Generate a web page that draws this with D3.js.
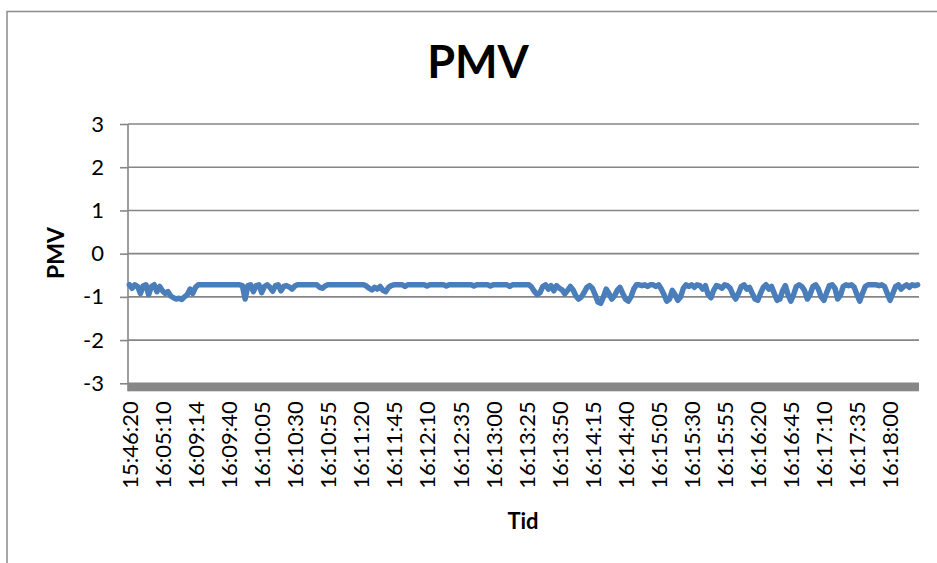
<!DOCTYPE html>
<html>
<head>
<meta charset="utf-8">
<script src="https://cdn.jsdelivr.net/npm/d3@7"></script>
<style>
  html, body { margin: 0; padding: 0; background: #fff; }
  svg { display: block; }
  text { font-family: Lato, "Open Sans", sans-serif; fill: #000; }
</style>
</head>
<body>
<svg id="chart" width="937" height="563"></svg>
<script>
// Category labels shown on the time axis (one every 12 samples)
const timeLabels = [
  "15:46:20", "16:05:10", "16:09:14", "16:09:40", "16:10:05", "16:10:30",
  "16:10:55", "16:11:20", "16:11:45", "16:12:10", "16:12:35", "16:13:00",
  "16:13:25", "16:13:50", "16:14:15", "16:14:40", "16:15:05", "16:15:30",
  "16:15:55", "16:16:20", "16:16:45", "16:17:10", "16:17:35", "16:18:00"
];
const labelEvery = 12;

// PMV samples
const pmv = [
  -0.72,-0.80,-0.72,-0.76,-0.92,-0.75,-0.72,-0.95,-0.76,-0.72,
  -0.88,-0.76,-0.86,-0.92,-0.88,-0.98,-1.02,-1.05,-1.03,-1.06,
  -1.00,-0.95,-0.82,-0.92,-0.78,-0.72,-0.72,-0.72,-0.72,-0.72,
  -0.72,-0.72,-0.72,-0.72,-0.72,-0.72,-0.72,-0.72,-0.72,-0.72,
  -0.72,-0.74,-1.05,-0.74,-0.72,-0.88,-0.74,-0.72,-0.90,-0.76,
  -0.72,-0.78,-0.87,-0.74,-0.72,-0.86,-0.76,-0.74,-0.77,-0.82,
  -0.75,-0.72,-0.72,-0.72,-0.72,-0.72,-0.72,-0.72,-0.72,-0.78,
  -0.80,-0.75,-0.72,-0.72,-0.72,-0.72,-0.72,-0.72,-0.72,-0.72,
  -0.72,-0.72,-0.72,-0.72,-0.72,-0.72,-0.75,-0.80,-0.84,-0.78,
  -0.82,-0.76,-0.85,-0.88,-0.78,-0.74,-0.72,-0.72,-0.72,-0.72,
  -0.76,-0.72,-0.72,-0.72,-0.72,-0.72,-0.72,-0.72,-0.75,-0.72,
  -0.72,-0.72,-0.72,-0.72,-0.72,-0.75,-0.72,-0.72,-0.72,-0.72,
  -0.72,-0.72,-0.72,-0.72,-0.72,-0.75,-0.72,-0.72,-0.72,-0.72,
  -0.72,-0.75,-0.72,-0.72,-0.72,-0.72,-0.72,-0.72,-0.76,-0.72,
  -0.72,-0.72,-0.72,-0.72,-0.72,-0.72,-0.78,-0.88,-0.95,-0.90,
  -0.76,-0.72,-0.82,-0.74,-0.86,-0.74,-0.80,-0.84,-0.93,-0.85,
  -0.76,-0.84,-0.98,-1.05,-1.00,-0.90,-0.78,-0.74,-0.80,-0.95,
  -1.12,-1.15,-1.00,-0.82,-0.92,-1.05,-0.98,-0.85,-0.78,-0.92,
  -1.05,-1.10,-1.00,-0.82,-0.72,-0.72,-0.74,-0.72,-0.76,-0.72,
  -0.72,-0.76,-0.72,-0.82,-0.95,-1.10,-1.05,-0.85,-0.95,-1.08,
  -1.00,-0.80,-0.72,-0.76,-0.72,-0.78,-0.72,-0.74,-0.82,-0.74,
  -0.95,-1.02,-0.85,-0.74,-0.76,-0.80,-0.72,-0.74,-0.80,-0.95,
  -1.05,-0.92,-0.76,-0.72,-0.82,-0.78,-0.92,-1.05,-1.08,-0.92,
  -0.78,-0.72,-0.82,-0.76,-0.92,-1.08,-1.05,-0.86,-0.74,-0.95,
  -1.10,-0.95,-0.76,-0.72,-0.76,-0.86,-1.05,-0.94,-0.76,-0.72,
  -0.82,-1.00,-1.08,-0.90,-0.74,-0.72,-0.80,-1.05,-0.96,-0.76,
  -0.72,-0.74,-0.72,-0.78,-0.95,-1.10,-0.92,-0.76,-0.72,-0.72,
  -0.72,-0.72,-0.74,-0.72,-0.76,-0.92,-1.08,-0.92,-0.76,-0.72,
  -0.82,-0.76,-0.72,-0.78,-0.72,-0.74,-0.72
];

const yTicks = [-3, -2, -1, 0, 1, 2, 3];

const svg = d3.select("#chart");
const plot = { left: 128, right: 919, top: 124, bottom: 383.3 };
const gridColor = "#868686";

// chart frame (extends past the visible page on the right and bottom)
svg.append("rect")
  .attr("x", 7).attr("y", 11.5)
  .attr("width", 1000).attr("height", 600)
  .attr("fill", "none").attr("stroke", "#8c8c8c").attr("stroke-width", 1.5);

const x = d3.scaleLinear().domain([0, pmv.length]).range([plot.left, plot.right]);
const y = d3.scaleLinear().domain([-3, 3]).range([plot.bottom, plot.top]);

// horizontal gridlines
svg.append("g")
  .selectAll("line")
  .data(yTicks)
  .join("line")
  .attr("x1", plot.left).attr("x2", plot.right)
  .attr("y1", d => y(d)).attr("y2", d => y(d))
  .attr("stroke", gridColor).attr("stroke-width", 1.6);

// y axis
const yAxis = svg.append("g")
  .attr("transform", `translate(${plot.left},0)`)
  .call(d3.axisLeft(y).tickValues(yTicks).tickSize(8).tickPadding(16)
    .tickFormat(d => String(d)));
yAxis.select(".domain").remove();
yAxis.selectAll(".tick line").attr("stroke", gridColor).attr("stroke-width", 1.6);
yAxis.selectAll(".tick text")
  .style("font-family", "Lato, sans-serif")
  .style("font-size", "22px")
  .attr("fill", "#000");
yAxis.append("line")
  .attr("x1", 0).attr("x2", 0)
  .attr("y1", plot.top).attr("y2", plot.bottom + 8)
  .attr("stroke", gridColor).attr("stroke-width", 1.6);

// thick category axis band
svg.append("rect")
  .attr("x", plot.left).attr("y", plot.bottom)
  .attr("width", plot.right - plot.left).attr("height", 8)
  .attr("fill", "#878787");

// category axis labels
const tickIdx = d3.range(0, pmv.length, labelEvery).slice(0, timeLabels.length);
const xAxis = svg.append("g")
  .attr("transform", `translate(0,${plot.bottom + 8})`)
  .call(d3.axisBottom(x)
    .tickValues(tickIdx.map(i => i + 0.5))
    .tickSize(0)
    .tickFormat((d, i) => timeLabels[i]));
xAxis.select(".domain").remove();
xAxis.selectAll(".tick text")
  .style("font-family", "Lato, sans-serif")
  .style("font-size", "22px")
  .attr("fill", "#000")
  .attr("text-anchor", "end")
  .attr("transform", "rotate(-90)")
  .attr("x", -10)
  .attr("y", 0)
  .attr("dy", "0.36em");

// PMV line
const line = d3.line()
  .x((d, i) => x(i + 0.5))
  .y(d => y(d));
svg.append("path")
  .datum(pmv)
  .attr("d", line)
  .attr("fill", "none")
  .attr("stroke", "#4a7ebb")
  .attr("stroke-width", 5.5)
  .attr("stroke-linejoin", "round")
  .attr("stroke-linecap", "round");

// titles
svg.append("text")
  .attr("x", 478).attr("y", 78)
  .attr("text-anchor", "middle")
  .style("font-size", "45px").style("font-weight", "bold")
  .text("PMV");

svg.append("text")
  .attr("transform", `translate(64,253) rotate(-90)`)
  .attr("text-anchor", "middle")
  .style("font-size", "23px").style("font-weight", "bold")
  .text("PMV");

svg.append("text")
  .attr("x", 523).attr("y", 529)
  .attr("text-anchor", "middle")
  .style("font-size", "22px").style("font-weight", "bold")
  .text("Tid");
</script>
</body>
</html>
